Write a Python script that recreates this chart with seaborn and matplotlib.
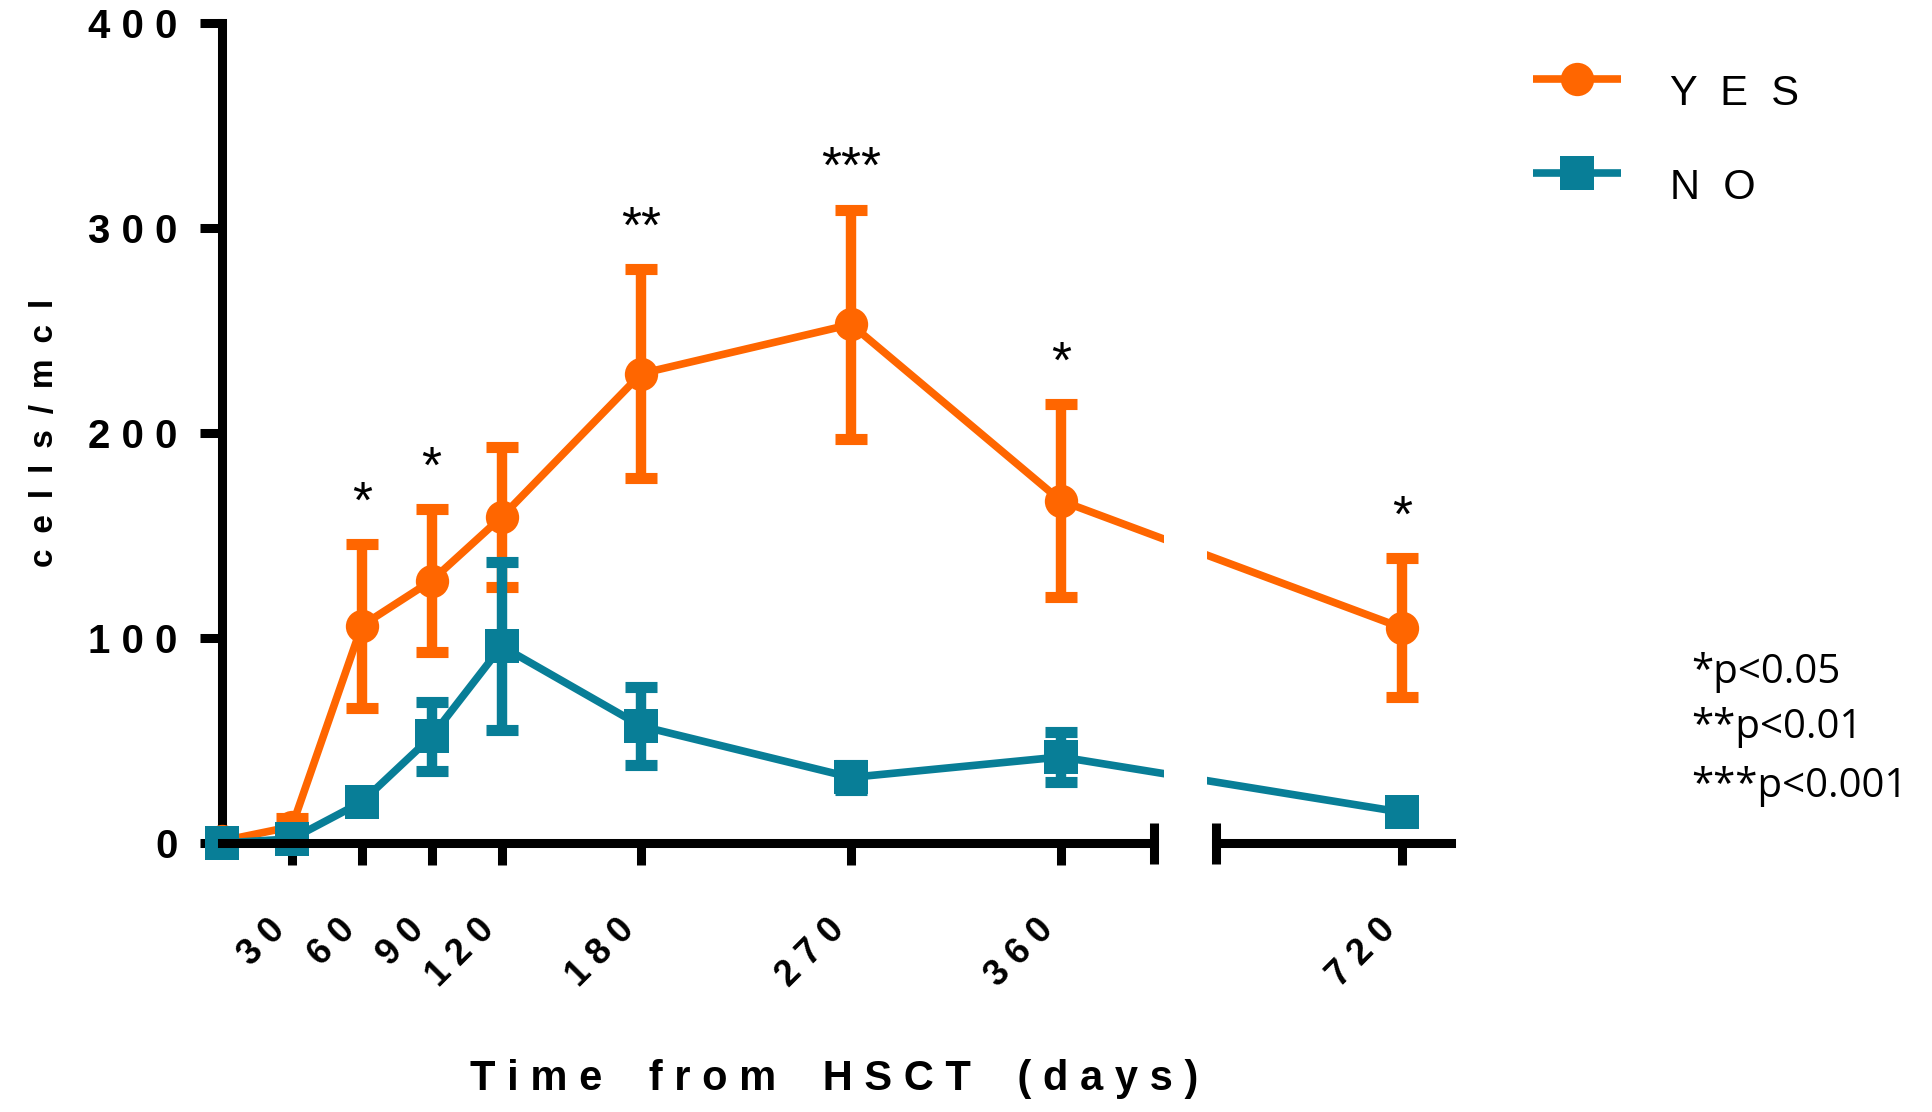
import numpy as np
import pandas as pd
import matplotlib
matplotlib.use("Agg")
import matplotlib.pyplot as plt
import matplotlib.transforms as mtransforms
from matplotlib.lines import Line2D
import seaborn as sns

# ---- data -------------------------------------------------------------
days = [0, 30, 60, 90, 120, 180, 270, 360, 720]
yes_mean = [1, 8, 106, 128, 159, 229, 253, 167, 105]
yes_err = [0, 4, 40, 35, 34, 51, 56, 47, 34]
no_mean = [0, 2, 20, 52, 96, 57, 32, 42, 15]
no_err = [0, 2, 5, 17, 41, 19, 6, 12, 4]
stars = ["", "", "*", "*", "", "**", "***", "*", "*"]

x_ticks = [30, 60, 90, 120, 180, 270, 360, 720]
y_ticks = [0, 100, 200, 300, 400]
groups = ["YES", "NO"]
p_notes = ["*p<0.05", "**p<0.01", "***p<0.001"]

# ---- style ------------------------------------------------------------
colors = {"YES": "#FF6600", "NO": "#087E97"}
markers = {"YES": "o", "NO": "s"}
LW = 5.5
MS = 24
AX_W = 6.5

sns.set_style("ticks")
plt.rcParams["font.family"] = ["Liberation Sans", "DejaVu Sans"]
for key in ("axes.edgecolor", "xtick.color", "ytick.color", "text.color",
            "axes.labelcolor"):
    plt.rcParams[key] = "black"

# broken time axis: days 400..640 are squeezed into a short gap
BREAK_LO, BREAK_HI, X_MAX = 400.0, 640.0, 741.0
GAP = 26.5


def fwd(d):
    d = np.asarray(d, dtype=float)
    mid = BREAK_LO + (d - BREAK_LO) * GAP / (BREAK_HI - BREAK_LO)
    return np.where(d <= BREAK_LO, d,
                    np.where(d >= BREAK_HI, d - BREAK_HI + BREAK_LO + GAP, mid))


def inv(v):
    v = np.asarray(v, dtype=float)
    mid = BREAK_LO + (v - BREAK_LO) * (BREAK_HI - BREAK_LO) / GAP
    return np.where(v <= BREAK_LO, v,
                    np.where(v >= BREAK_LO + GAP, v - GAP - BREAK_LO + BREAK_HI, mid))


df = pd.DataFrame({
    "day": days * 2,
    "cells": yes_mean + no_mean,
    "err": yes_err + no_err,
    "group": ["YES"] * len(days) + ["NO"] * len(days),
})

fig = plt.figure(figsize=(19.32, 11.12), dpi=100)
ax = fig.add_axes([0.1149, 0.2419, 0.751 - 0.1149, 0.9793 - 0.2419])
ax.set_xscale("function", functions=(fwd, inv))

for i, g in enumerate(groups):
    sub = df[df["group"] == g]
    z = 2 + 2 * i
    has_err = sub["err"] > 0
    ax.errorbar(sub["day"][has_err], sub["cells"][has_err], yerr=sub["err"][has_err],
                fmt="none", ecolor=colors[g], elinewidth=7.5, capsize=11.5,
                capthick=8, zorder=z, clip_on=False)
    sns.lineplot(data=sub, x="day", y="cells", color=colors[g], marker=markers[g],
                 markersize=MS, markeredgewidth=0, linewidth=LW, errorbar=None,
                 legend=False, zorder=z + 1, clip_on=False, ax=ax)

# significance marks above the YES error bars
for d, m, e, s in zip(days, yes_mean, yes_err, stars):
    if s:
        ax.annotate(s, (d, m + e), xytext=(0, 19), textcoords="offset points",
                    ha="center", va="baseline", fontsize=37, zorder=8)

# white gap in the data lines across the axis break
ax.axvspan(438, 606, color="white", zorder=6, lw=0)

# axes frame
sns.despine(ax=ax, bottom=True)
ax.spines["left"].set_linewidth(AX_W)
trans = mtransforms.blended_transform_factory(ax.transData, ax.transAxes)
for a, b in [(0, BREAK_LO), (BREAK_HI, X_MAX)]:
    ax.plot([a, b], [0, 0], transform=trans, color="black", lw=AX_W,
            clip_on=False, solid_capstyle="projecting", zorder=7)
for xb in (BREAK_LO, BREAK_HI):
    ax.plot([xb, xb], [-0.025, 0.025], transform=trans, color="black", lw=AX_W,
            clip_on=False, solid_capstyle="butt", zorder=7)

ax.set_xlim(0, X_MAX)
ax.set_ylim(0, 400)
ax.set_xticks(x_ticks)
ax.set_xticklabels([" ".join(str(t)) for t in x_ticks], rotation=45,
                   ha="right", va="top", fontweight="bold", fontsize=26)
ax.set_yticks(y_ticks)
ax.set_yticklabels([" ".join(str(t)) for t in y_ticks], fontweight="bold", fontsize=29)
ax.tick_params(axis="x", direction="out", length=16, width=AX_W, pad=34, color="black")
ax.tick_params(axis="y", direction="out", length=16, width=AX_W, pad=16, color="black")
ax.minorticks_off()

ax.set_xlabel("T i m e    f r o m    H S C T    ( d a y s )", fontsize=30,
              fontweight="bold", va="center")
ax.xaxis.set_label_coords(0.498, -0.288)
ax.set_ylabel("c \u2009e \u2009l \u2009l \u2009s \u2009/ \u2009m \u2009c \u2009l",
              fontsize=24, fontweight="bold", va="center")
ax.yaxis.set_label_coords(-0.1448, 0.5)

# legend: line-with-marker swatches and spaced labels
W, H = 1932.0, 1112.0
for g, y_line, y_text in zip(groups, [79, 173], [105, 199]):
    yf = 1 - y_line / H
    fig.add_artist(Line2D([1533 / W, 1621 / W], [yf, yf], transform=fig.transFigure,
                          color=colors[g], lw=LW, solid_capstyle="butt"))
    fig.add_artist(Line2D([1577 / W], [yf], transform=fig.transFigure,
                          color=colors[g], marker=markers[g], markersize=MS,
                          markeredgewidth=0, lw=0))
    fig.text(1670 / W, 1 - y_text / H, "  ".join(g), fontsize=30,
             va="baseline", ha="left")

# significance key
for note, yb in zip(p_notes, [0.3858, 0.3363, 0.2833]):
    fig.text(0.8752, yb, note, fontsize=29, family=["Open Sans", "DejaVu Sans"],
             va="baseline", ha="left")

fig.savefig("out.png", dpi=100)
